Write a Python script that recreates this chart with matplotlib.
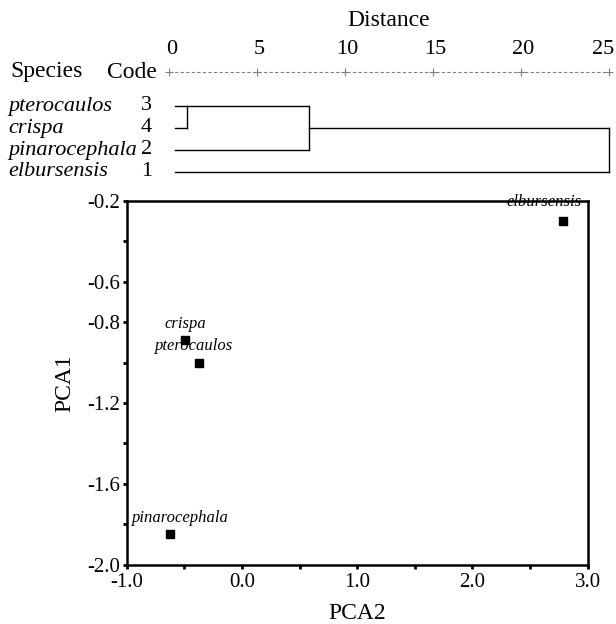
import numpy as np
import matplotlib
matplotlib.use("Agg")
import matplotlib.pyplot as plt
from matplotlib.ticker import FixedLocator

plt.rcParams['font.family'] = ['Liberation Serif', 'DejaVu Serif']

# dendrogram data (leaf order top to bottom)
species = ['pterocaulos', 'crispa', 'pinarocephala', 'elbursensis']
codes = ['3', '4', '2', '1']
# merges: (child a, child b, distance); children index leaves 0..3 or clusters 4..
merges = [(0, 1, 1.05), (4, 2, 8.0), (5, 3, 25.0)]
leaf_start = 0.35
dist_ticks = [0, 5, 10, 15, 20, 25]

# PCA data
pca2 = [-0.37, -0.49, -0.62, 2.79]
pca1 = [-1.00, -0.89, -1.85, -0.30]
y_ticks = [-2.0, -1.8, -1.6, -1.4, -1.2, -1.0, -0.8, -0.6, -0.4, -0.2]
y_labels = ['-2.0', '', '-1.6', '', '-1.2', '', '-0.8', '-0.6', '', '-0.2']
x_ticks = [-1.0, -0.5, 0.0, 0.5, 1.0, 1.5, 2.0, 2.5, 3.0]
x_labels = ['-1.0', '', '0.0', '', '1.0', '', '2.0', '', '3.0']

# label placement (offset in points, alignment)
label_pos = {
    'pterocaulos': ((-4, 6), 'center'),
    'crispa': ((0, 6), 'center'),
    'pinarocephala': ((7, 6), 'center'),
    'elbursensis': ((13, 8), 'right'),
}

fig = plt.figure(figsize=(6.16, 6.24), dpi=100)

# ---- dendrogram panel ----
W, H = 616, 624
px0, pxu = 168.7, 17.6
row0, rowu = 106, 22.0
top_h = 190
ad = fig.add_axes([0, 1 - top_h / H, 1, top_h / H])
ad.set_xlim(-px0 / pxu, (W - px0) / pxu)
ad.set_ylim((top_h - row0) / rowu, -row0 / rowu)
ad.axis('off')

lc = 'black'
node_row = {i: i for i in range(len(species))}
node_x = {i: leaf_start for i in range(len(species))}
for k, (a, b, d) in enumerate(merges):
    ra, rb = node_row[a], node_row[b]
    ad.plot([node_x[a], d], [ra, ra], color=lc, lw=1.0)
    ad.plot([node_x[b], d], [rb, rb], color=lc, lw=1.0)
    ad.plot([d, d], [ra, rb], color=lc, lw=1.0)
    new = len(species) + k
    node_row[new] = int((ra + rb) / 2)
    node_x[new] = d

axis_row = (72 - row0) / rowu
ad.plot([0, 25], [axis_row, axis_row], color='gray', lw=0.8, ls=(0, (3, 2)))
ad.plot(dist_ticks, [axis_row] * len(dist_ticks), '+', color='gray', ms=6, mew=0.8)
for t in dist_ticks:
    if t == dist_ticks[-1]:
        ad.text(t + 0.3, axis_row - 1.0, str(t), ha='right', va='center', fontsize=16)
    else:
        ad.text(t + 0.15, axis_row - 1.0, str(t), ha='center', va='center', fontsize=16)
ad.text(12.5, (20 - row0) / rowu, 'Distance', ha='center', va='center', fontsize=17)
ad.text(-9.0, axis_row, 'Species', ha='left', va='center', fontsize=17)
ad.text(-0.65, axis_row, 'Code', ha='right', va='center', fontsize=17)
for i, (s, c) in enumerate(zip(species, codes)):
    ad.text(-9.1, i, s, ha='left', va='center', fontsize=16, style='italic')
    ad.text(-0.95, i, c, ha='right', va='center', fontsize=16)

# ---- PCA scatter panel ----
ax = fig.add_axes([126.7 / W, 1 - 564.5 / H, (587.7 - 126.7) / W, (564.5 - 201) / H])
ax.scatter(pca2, pca1, marker='s', s=30, color='black', zorder=3)
for s, x, y in zip(species, pca2, pca1):
    off, ha = label_pos[s]
    ax.annotate(s, (x, y), xytext=off, textcoords='offset points',
                ha=ha, va='bottom', fontsize=12, style='italic')
ax.set_xlim(-1.0, 3.0)
ax.set_ylim(-2.0, -0.2)
ax.xaxis.set_major_locator(FixedLocator(x_ticks))
ax.set_xticklabels(x_labels)
ax.yaxis.set_major_locator(FixedLocator(y_ticks))
ax.set_yticklabels(y_labels)
ax.tick_params(direction='out', length=3, width=2, labelsize=15)
ax.tick_params(axis='x', pad=3)
ax.tick_params(axis='y', pad=2)
for sp in ax.spines.values():
    sp.set_linewidth(1.8)
ax.set_xlabel('PCA2', fontsize=17, labelpad=8)
ax.set_ylabel('PCA1', fontsize=17, labelpad=8)

fig.savefig('out.png', dpi=100)
